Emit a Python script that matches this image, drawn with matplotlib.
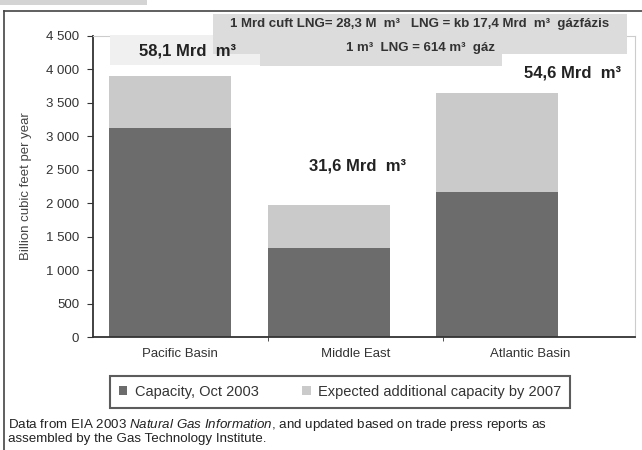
import matplotlib
matplotlib.use("Agg")
import matplotlib.pyplot as plt
from matplotlib.patches import Rectangle
from matplotlib.ticker import FuncFormatter

plt.rcParams['font.family'] = ['Liberation Sans', 'DejaVu Sans']
plt.rcParams['mathtext.fontset'] = 'custom'
plt.rcParams['mathtext.rm'] = 'Liberation Sans'
plt.rcParams['mathtext.it'] = 'Liberation Sans:italic'
plt.rcParams['mathtext.bf'] = 'Liberation Sans:bold'

# adatok (Billion cubic feet per year)
regions = ['Pacific Basin', 'Middle East', 'Atlantic Basin']
capacity_2003 = [3120, 1330, 2170]
additional_2007 = [780, 650, 1480]
volume_labels = ['58,1 Mrd  m³', '31,6 Mrd  m³', '54,6 Mrd  m³']
yticks = [0, 500, 1000, 1500, 2000, 2500, 3000, 3500, 4000, 4500]

dark = '#6c6c6c'
light = '#cacaca'
W, H = 642, 450

fig = plt.figure(figsize=(W / 100, H / 100), dpi=100)


def px(x, y):
    return x / W, 1 - y / H


def rect(x0, y0, x1, y1, **kw):
    fig.patches.append(Rectangle(px(x0, y1), (x1 - x0) / W, (y1 - y0) / H,
                                 transform=fig.transFigure, figure=fig, **kw))


# keret
rect(0, 0, 147, 5, facecolor='#d4d4d4', edgecolor='none')
fig.add_artist(plt.Line2D([4 / W, 1], [1 - 11 / H] * 2, color='#444444', lw=1.2))
fig.add_artist(plt.Line2D([4 / W] * 2, [0, 1 - 11 / H], color='#444444', lw=1.2))

ax = fig.add_axes([93 / W, 1 - 337 / H, (635 - 93) / W, (337 - 36) / H])

x = range(len(regions))
offsets = [-0.06, -0.15, -0.19]
bx = [i + o for i, o in zip(x, offsets)]
ax.bar(bx, capacity_2003, width=0.7, color=dark, label='Capacity, Oct 2003')
ax.bar(bx, additional_2007, bottom=capacity_2003, width=0.7, color=light,
       label='Expected additional capacity by 2007')

ax.set_xlim(-0.5, 2.6)
ax.set_ylim(0, 4500)
ax.set_yticks(yticks)
ax.yaxis.set_major_formatter(FuncFormatter(lambda v, p: f'{int(v):,}'.replace(',', ' ')))
ax.set_xticks(list(x))
ax.set_xticklabels(regions)
ax.set_xticks([0.5, 1.5], minor=True)
ax.tick_params(axis='x', which='major', length=0, pad=8, labelsize=9.5, colors='#333333')
ax.tick_params(axis='x', which='minor', length=3, color='#333333')
ax.tick_params(axis='y', length=4, labelsize=9.5, colors='#333333', pad=6)
ax.set_ylabel('Billion cubic feet per year', fontsize=9.5, color='#444444', labelpad=10)

for side in ['left', 'bottom']:
    ax.spines[side].set_color('#333333')
    ax.spines[side].set_linewidth(1.3)
for side in ['top', 'right']:
    ax.spines[side].set_color('#cccccc')
    ax.spines[side].set_linewidth(0.8)

# szürke dobozok a fejlécben
rect(110, 35, 262, 65, facecolor='#f0f0f0', edgecolor='none')
rect(213, 14, 627, 54, facecolor='#dcdcdc', edgecolor='none')
rect(260, 38, 502, 66, facecolor='#dcdcdc', edgecolor='none')
fig.text(*px(420, 24), '1 Mrd cuft LNG= 28,3 M  m³   LNG = kb 17,4 Mrd  m³  gázfázis',
         ha='center', va='center', fontsize=9.5, fontweight='bold', color='#333333')
fig.text(*px(420, 48), '1 m³  LNG = 614 m³  gáz',
         ha='center', va='center', fontsize=9.5, fontweight='bold', color='#333333')

label_pos = [(188, 51), (358, 166), (573, 73)]
for txt, (lx, ly) in zip(volume_labels, label_pos):
    fig.text(*px(lx, ly), txt, ha='center', va='center', fontsize=12,
             fontweight='bold', color='#222222')

leg = fig.legend(loc='center', bbox_to_anchor=(340 / W, 1 - 392 / H), ncol=2,
                 fontsize=10.5, frameon=True, fancybox=False, handlelength=0.6,
                 handleheight=0.6, handletextpad=0.5, columnspacing=3.0, borderpad=0.6)
leg.get_frame().set_edgecolor('#333333')
leg.get_frame().set_linewidth(1.5)
for t in leg.get_texts():
    t.set_color('#333333')

fig.text(*px(8, 425), 'Data from EIA 2003 $\\it{Natural\\ Gas\\ Information}$, and updated based on trade press reports as',
         ha='left', va='center', fontsize=9.6, color='#222222')
fig.text(*px(8, 439), 'assembled by the Gas Technology Institute.',
         ha='left', va='center', fontsize=9.6, color='#222222')

fig.savefig('out.png', dpi=100)
